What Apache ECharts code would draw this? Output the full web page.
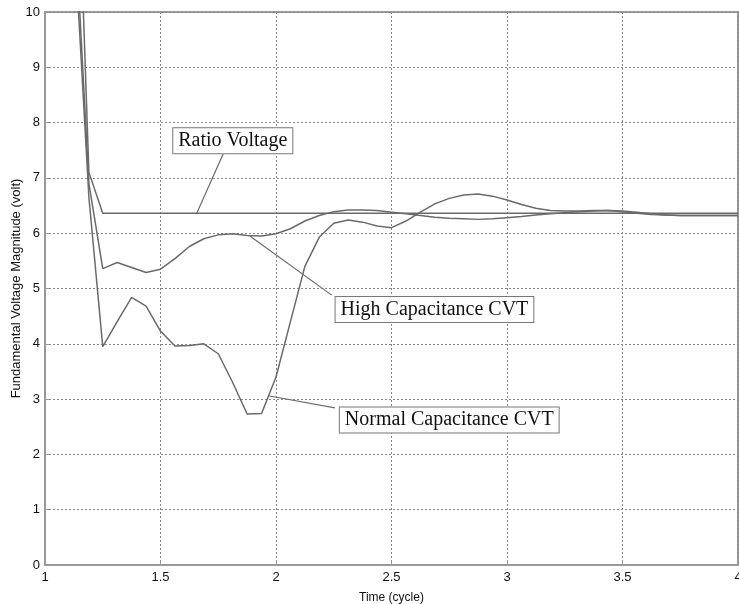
<!DOCTYPE html>
<html>
<head>
<meta charset="utf-8">
<script src="https://cdn.jsdelivr.net/npm/echarts@6/dist/echarts.min.js"></script>
<style>html,body{margin:0;padding:0;background:#fff}#c{width:739px;height:604px}</style>
</head>
<body>
<div id="c"></div>
<script>
// Time samples (cycle)
var tRatio = [1.125, 1.19, 1.25, 4.0];
var vRatio = [15, 7.1, 6.36, 6.36];

var tCVT = [1.125, 1.19, 1.25, 1.3125, 1.375, 1.4375, 1.5, 1.5625, 1.625, 1.6875, 1.75, 1.8125, 1.875, 1.9375,
  2.0, 2.0625, 2.125, 2.1875, 2.25, 2.3125, 2.375, 2.4375, 2.5, 2.5625, 2.625, 2.6875, 2.75, 2.8125, 2.875, 2.9375,
  3.0, 3.0625, 3.125, 3.1875, 3.25, 3.3125, 3.375, 3.4375, 3.5, 3.5625, 3.625, 3.6875, 3.75, 3.8125, 3.875, 3.9375, 4.0];

var vNormal = [11.5, 6.65, 3.95, 4.4, 4.84, 4.68, 4.23, 3.96, 3.97, 4.0, 3.82, 3.3, 2.73, 2.74,
  3.4, 4.4, 5.4, 5.93, 6.18, 6.24, 6.2, 6.13, 6.1, 6.22, 6.38, 6.53, 6.63, 6.69, 6.71, 6.67,
  6.6, 6.52, 6.45, 6.41, 6.40, 6.40, 6.41, 6.41, 6.39, 6.36, 6.34, 6.33, 6.32, 6.32, 6.32, 6.32, 6.32];

var vHigh = [12, 6.9, 5.36, 5.47, 5.38, 5.29, 5.35, 5.54, 5.76, 5.9, 5.97, 5.99, 5.96, 5.95,
  5.99, 6.08, 6.22, 6.32, 6.39, 6.42, 6.42, 6.41, 6.38, 6.35, 6.32, 6.29, 6.27, 6.26, 6.25, 6.26,
  6.28, 6.3, 6.33, 6.35, 6.37, 6.39, 6.4, 6.41, 6.4, 6.38, 6.35, 6.33, 6.32, 6.32, 6.32, 6.32, 6.32];

// Annotations (data coordinates)
var annLabels = ['Ratio Voltage', 'High Capacitance CVT', 'Normal Capacitance CVT'];
var annBoxAt = [[1.813, 7.67], [2.686, 4.62], [2.75, 2.62]];
var annFrom = [[1.657, 6.36], [1.887, 5.95], [1.967, 3.06]];
var annTo = [[1.772, 7.44], [2.241, 4.88], [2.255, 2.84]];

function pairs(xs, ys) { return xs.map(function (x, i) { return [x, ys[i]]; }); }

var lineColor = '#6a6a6a';
var axisFont = 'Liberation Sans, Arial, sans-serif';
var chart = echarts.init(document.getElementById('c'), null, { renderer: 'canvas' });

var markPts = annLabels.map(function (t, i) {
  return {
    coord: annBoxAt[i], value: t, symbol: 'rect', symbolSize: 1,
    itemStyle: { color: 'rgba(0,0,0,0)', opacity: 1 },
    label: {
      show: true, position: 'inside', formatter: t, opacity: 1,
      fontFamily: 'Liberation Serif, Times New Roman, serif', fontSize: 20, color: '#111',
      backgroundColor: '#fff', borderColor: '#777', borderWidth: 1,
      padding: [2, 5, 1, 5], lineHeight: 22
    }
  };
});
var markLns = annLabels.map(function (t, i) {
  return [{ coord: annFrom[i] }, { coord: annTo[i] }];
});

chart.setOption({
  animation: false,
  backgroundColor: '#fff',
  grid: { left: 45, top: 12, right: 1, bottom: 39, outerBoundsMode: 'none', containLabel: false,
    show: true, borderColor: '#999', borderWidth: 2, backgroundColor: '#fff' },
  xAxis: {
    type: 'value', min: 1, max: 4, interval: 0.5,
    name: 'Time (cycle)', nameLocation: 'middle', nameGap: 27, nameMoveOverlap: false,
    nameTextStyle: { fontFamily: axisFont, fontSize: 12, color: '#111' },
    axisLine: { show: true, onZero: false, lineStyle: { color: '#999', width: 2 } },
    axisTick: { show: true, inside: true, length: 4, lineStyle: { color: '#999' } },
    axisLabel: { fontFamily: axisFont, fontSize: 13, color: '#111', margin: 6 },
    splitLine: { show: true, lineStyle: { color: '#888', type: [2, 2], width: 1 } }
  },
  yAxis: {
    type: 'value', min: 0, max: 10, interval: 1,
    name: 'Fundamental Voltage Magnitude (volt)', nameLocation: 'middle', nameGap: 22, nameRotate: 90,
    nameMoveOverlap: false,
    nameTextStyle: { fontFamily: axisFont, fontSize: 13, color: '#111' },
    axisLine: { show: true, lineStyle: { color: '#999', width: 2 } },
    axisTick: { show: true, inside: true, length: 4, lineStyle: { color: '#999' } },
    axisLabel: { fontFamily: axisFont, fontSize: 13, color: '#111', margin: 5 },
    splitLine: { show: true, lineStyle: { color: '#888', type: [2, 2], width: 1 } }
  },
  series: [
    {
      name: 'Ratio Voltage', type: 'line', data: pairs(tRatio, vRatio), showSymbol: false, clip: true,
      lineStyle: { color: lineColor, width: 1.5 },
      markLine: {
        silent: true, symbol: ['none', 'none'], label: { show: false },
        lineStyle: { color: lineColor, width: 1.2, type: 'solid' }, data: markLns
      },
      markPoint: { silent: true, data: markPts }
    },
    {
      name: 'High Capacitance CVT', type: 'line', data: pairs(tCVT, vHigh), showSymbol: false, clip: true,
      lineStyle: { color: lineColor, width: 1.5 }
    },
    {
      name: 'Normal Capacitance CVT', type: 'line', data: pairs(tCVT, vNormal), showSymbol: false, clip: true,
      lineStyle: { color: lineColor, width: 1.5 }
    }
  ]
});
</script>
</body>
</html>
